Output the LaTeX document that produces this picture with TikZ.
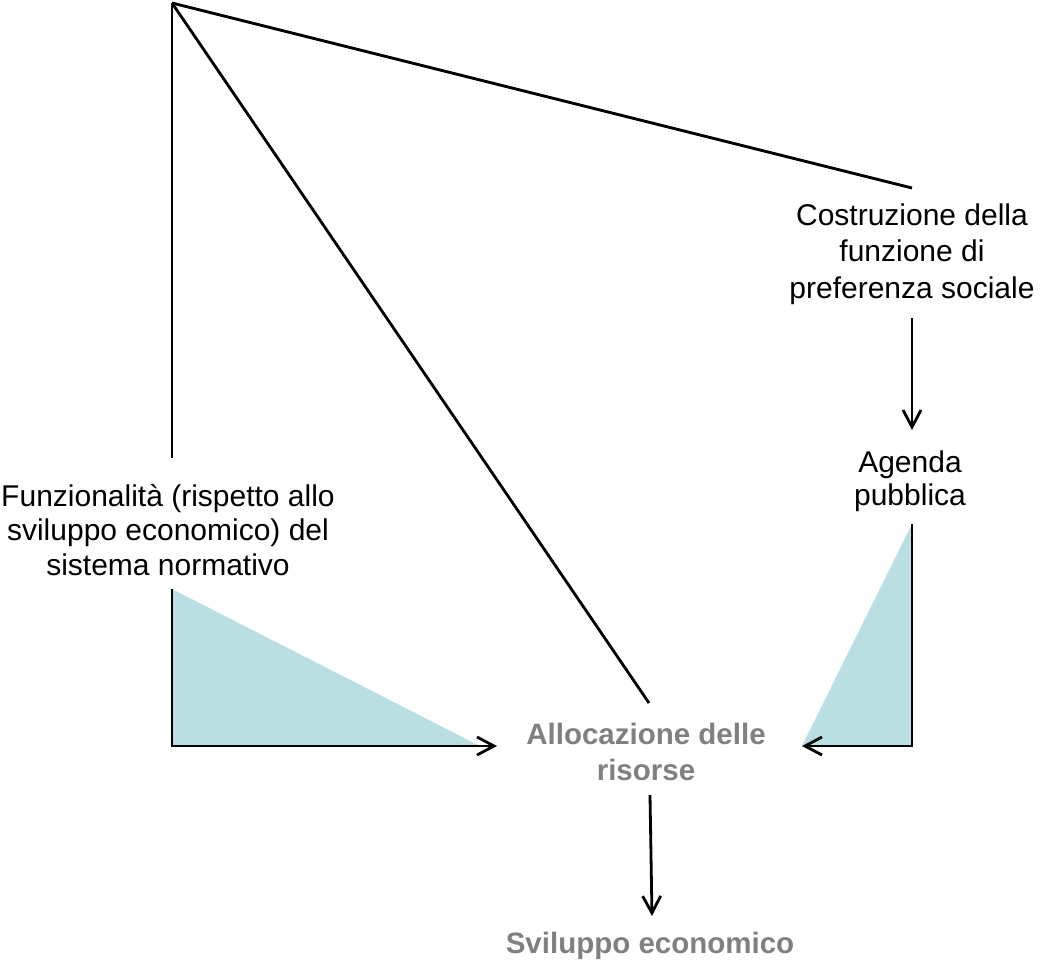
\documentclass[tikz,border=0pt]{standalone}
\usepackage{fontspec}
\setmainfont{Liberation Sans}
\usetikzlibrary{arrows.meta}
\definecolor{tealfill}{HTML}{B9DFE2}
\definecolor{graytext}{HTML}{808080}
\begin{document}
\begin{tikzpicture}[x=1pt,y=-1pt,
  conn/.style={line width=2.8pt,draw=black,line join=miter},
  arr/.style={conn,-{Straight Barb[length=17pt,width=18pt,line width=2.8pt]}},
  lbl/.style={font=\fontsize{30}{34.5}\selectfont,align=center,inner sep=0pt,text=black},
  hlbl/.style={font=\fontsize{29.5}{36.5}\selectfont\bfseries,align=center,inner sep=0pt,text=graytext},
  shade/.style={fill=tealfill,draw=none}]
\useasboundingbox (0,0) rectangle (1041,966);
% nodes
\node[lbl,font=\fontsize{30}{36.5}\selectfont] (cost) at (912,254) {Costruzione della\\funzione di\\preferenza sociale};
\node[lbl,font=\fontsize{30}{33.5}\selectfont] (agenda) at (910,481) {Agenda\\pubblica};
\node[lbl] (funz) at (168,530) {Funzionalità (rispetto allo\\sviluppo economico) del\\sistema normativo};
\node[hlbl] (alloc) at (646,752) {Allocazione delle\\risorse};
\node[hlbl] (svil) at (650,946) {Sviluppo economico};
% coordinates
\coordinate (apex) at (172,3);
\coordinate (funzTop) at (172,458);
\coordinate (allocTop) at (649,703);
\coordinate (costTop) at (912,188);
\coordinate (costBot) at (912,318);
\coordinate (agendaTop) at (912,430);
\coordinate (funzBot) at (172,589);
\coordinate (lcorner) at (172,746);
\coordinate (ltip) at (480,746);
\coordinate (allocLeft) at (497,746);
\coordinate (agendaBot) at (912,524);
\coordinate (rcorner) at (912,746);
\coordinate (allocRight) at (802,746);
\coordinate (allocBot) at (650,795);
\coordinate (svilTop) at (652,916);
% shaded triangles
\fill[shade] (funzBot) -- (lcorner) -- (ltip) -- cycle;
\fill[shade] (agendaBot) -- (rcorner) -- (allocRight) -- cycle;
% connectors
\draw[conn] (apex) -- (funzTop);
\draw[conn] (apex) -- (allocTop);
\draw[conn] (apex) -- (costTop);
\draw[arr] (costBot) -- (agendaTop);
\draw[arr] (funzBot) -- (lcorner) -- (allocLeft);
\draw[arr] (agendaBot) -- (rcorner) -- (allocRight);
\draw[arr] (allocBot) -- (svilTop);
\end{tikzpicture}
\end{document}
